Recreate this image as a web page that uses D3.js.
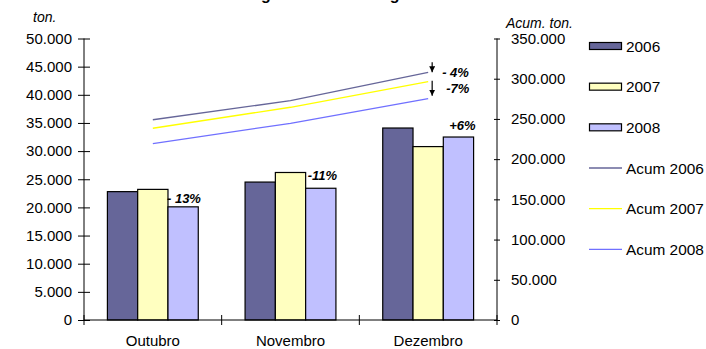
<!DOCTYPE html>
<html><head><meta charset="utf-8">
<script src="https://cdn.jsdelivr.net/npm/d3@7"></script>
<style>
body{margin:0;background:#fff;}
svg{display:block;font-family:"Liberation Sans",Arial,sans-serif;}
</style></head>
<body><svg id="c" width="706" height="349"></svg>
<script>
const title = "Entregas Mensais Longos";
const months = ["Outubro", "Novembro", "Dezembro"];
const years = ["2006", "2007", "2008"];
const v2006 = [22800, 24500, 34100];
const v2007 = [23200, 26200, 30800];
const v2008 = [20100, 23400, 32500];
const acum2006 = [249000, 272700, 308000];
const acum2007 = [238400, 264500, 296300];
const acum2008 = [219200, 244600, 275200];
const leftTicks = [0,5000,10000,15000,20000,25000,30000,35000,40000,45000,50000];
const rightTicks = [0,50000,100000,150000,200000,250000,300000,350000];
const varLabels = ["- 13%", "-11%", "+6%"];
const acumLabels = ["- 4%", "-7%"];

const barColors = ["#666699", "#FFFFC0", "#C0C0FF"];
const lineColors = ["#666699", "#FFFF00", "#7070FF"];

const svg = d3.select("#c");
const L = 84, R = 497, T = 38.5, B = 320;
const fmt = d3.formatLocale({decimal:",", thousands:".", grouping:[3], currency:["",""]}).format(",");

const x0 = d3.scaleBand().domain(months).range([L, R]).padding(0);
const bw = x0.bandwidth();
const x1 = d3.scaleBand().domain(years).range([bw*0.17, bw*0.83]).padding(0);
const yL = d3.scaleLinear().domain([0, 50000]).range([B, T]);
const yR = d3.scaleLinear().domain([0, 350000]).range([B, T]);

// title (mostly cut off at the top, as in the reference)
svg.append("text").attr("x", 220).attr("y", 0).attr("font-size", 16).attr("font-weight", "bold").text(title);

// bars
const series = [v2006, v2007, v2008];
months.forEach((m, i) => {
  years.forEach((yr, j) => {
    svg.append("rect")
      .attr("x", x0(m) + x1(yr)).attr("width", x1.bandwidth())
      .attr("y", yL(series[j][i])).attr("height", B - yL(series[j][i]))
      .attr("fill", barColors[j]).attr("stroke", "#000").attr("stroke-width", 1.2);
  });
});

// lines
const acums = [acum2006, acum2007, acum2008];
acums.forEach((a, j) => {
  const line = d3.line().x((d, i) => x0(months[i]) + bw/2).y(d => yR(d));
  svg.append("path").attr("d", line(a)).attr("fill", "none").attr("stroke", lineColors[j]).attr("stroke-width", 1.3);
});

// axes
const gl = svg.append("g").attr("transform", `translate(${L},0)`)
  .call(d3.axisLeft(yL).tickValues(leftTicks).tickFormat(fmt).tickSize(6).tickPadding(6));
gl.selectAll(".tick line").attr("x1", 6);
const gr = svg.append("g").attr("transform", `translate(${R},0)`)
  .call(d3.axisRight(yR).tickValues(rightTicks).tickFormat(fmt).tickSize(3).tickPadding(11));
gr.selectAll(".tick line").attr("x1", -3);
const gb = svg.append("g").attr("transform", `translate(0,${B})`)
  .call(d3.axisBottom(x0).tickSize(0).tickPadding(15));
[L, L+bw, L+2*bw, R].forEach(xx => {
  gb.append("line").attr("x1", xx).attr("x2", xx).attr("y1", -5).attr("y2", 5).attr("stroke", "#000");
});
[gl, gr, gb].forEach(g => {
  g.selectAll(".domain").attr("stroke", "#000").attr("stroke-width", 1);
  g.selectAll("text").attr("font-size", 15).attr("fill", "#000").attr("font-family", "Liberation Sans, Arial, sans-serif");
  g.selectAll(".tick line").attr("stroke", "#000");
});
gr.select(".domain").attr("d", `M0,${B}V${T}`);
gl.select(".domain").attr("d", `M0,${B}V${T}`);
gb.select(".domain").attr("d", `M${L},0H${R}`);

// axis titles
svg.append("text").attr("x", 33).attr("y", 22).attr("font-size", 14).attr("font-style", "italic").text("ton.");
svg.append("text").attr("x", 506).attr("y", 28).attr("font-size", 14).attr("font-style", "italic").text("Acum. ton.");

// variation labels
const lab = (x, y, t, anchor) => svg.append("text").attr("x", x).attr("y", y).attr("font-size", 13)
  .attr("font-weight", "bold").attr("font-style", "italic").attr("text-anchor", anchor || "start").text(t);
lab(x0(months[0]) + x1("2007") + x1.bandwidth() - 1, yL(v2008[0]) - 4, varLabels[0]);
lab(x0(months[1]) + x1("2007") + x1.bandwidth() + 2, yL(v2007[1]) + 8, varLabels[1]);
lab(x0(months[2]) + x1("2008") + x1.bandwidth()/2 + 4, yL(v2008[2]) - 7, varLabels[2], "middle");

// arrows
const ax = x0(months[2]) + bw/2 + 4;
svg.append("defs").append("marker").attr("id", "ah").attr("viewBox", "0 0 10 10").attr("refX", 10).attr("refY", 5)
  .attr("markerWidth", 6).attr("markerHeight", 6).attr("markerUnits", "userSpaceOnUse").attr("orient", "auto")
  .append("path").attr("d", "M0,0L10,5L0,10z").attr("fill", "#000");
svg.append("line").attr("x1", ax).attr("x2", ax).attr("y1", yR(acum2006[2]) - 10).attr("y2", yR(acum2006[2]))
  .attr("stroke", "#000").attr("stroke-width", 1.2).attr("marker-end", "url(#ah)");
svg.append("line").attr("x1", ax).attr("x2", ax).attr("y1", yR(acum2007[2]) - 1).attr("y2", yR(acum2008[2]) - 3)
  .attr("stroke", "#000").attr("stroke-width", 1.2).attr("marker-end", "url(#ah)");
lab(ax + 10, yR(acum2006[2]) + 5, acumLabels[0]);
lab(ax + 14, yR(acum2007[2]) + 11, acumLabels[1]);

// legend
const legItems = years.map((y, j) => ({t: y, type: "bar", c: barColors[j]}))
  .concat(years.map((y, j) => ({t: "Acum " + y, type: "line", c: lineColors[j]})));
const lg = svg.append("g");
legItems.forEach((d, i) => {
  const yy = 46 + i * 40.66;
  if (d.type === "bar") {
    lg.append("rect").attr("x", 589.5).attr("y", yy - 3.5).attr("width", 32).attr("height", 7)
      .attr("fill", d.c).attr("stroke", "#000").attr("stroke-width", 1.2);
  } else {
    lg.append("line").attr("x1", 589).attr("x2", 622).attr("y1", yy).attr("y2", yy).attr("stroke", d.c).attr("stroke-width", 1.3);
  }
  lg.append("text").attr("x", 626).attr("y", yy).attr("dy", "0.36em").attr("font-size", 15.4).text(d.t);
});
</script></body></html>
